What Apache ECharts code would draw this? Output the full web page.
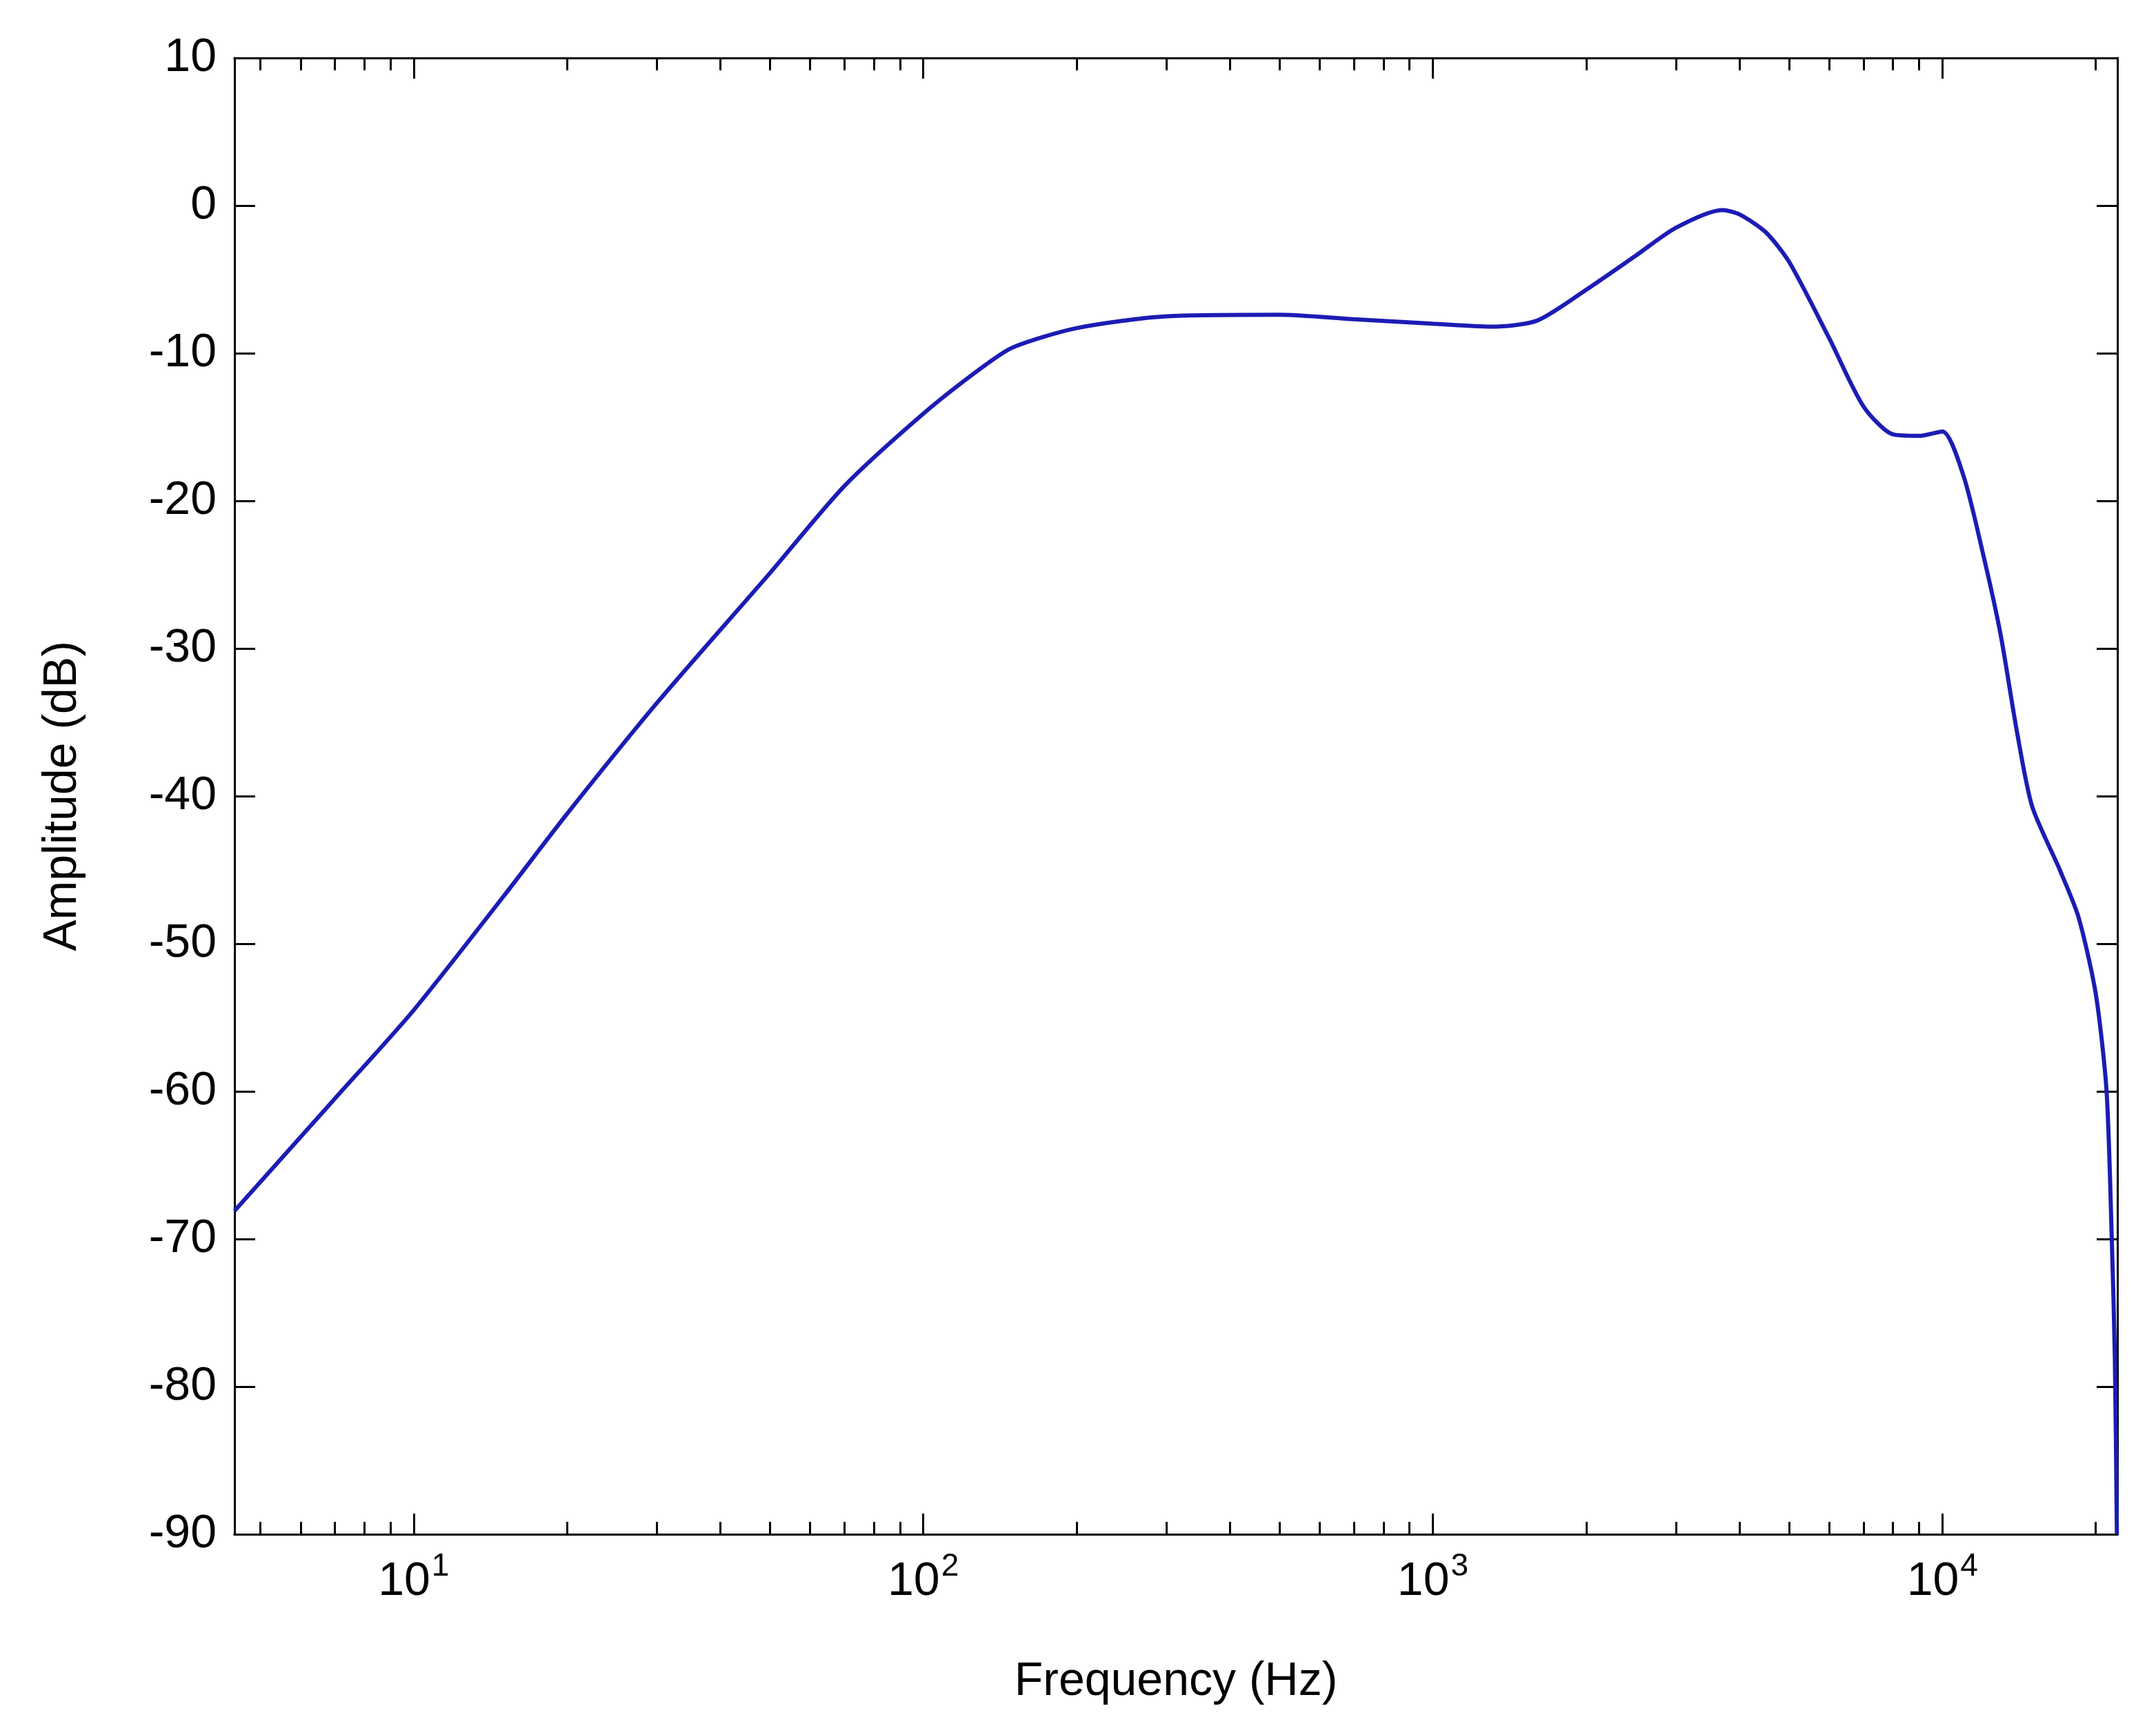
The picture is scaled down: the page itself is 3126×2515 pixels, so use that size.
<!DOCTYPE html>
<html><head><meta charset="utf-8">
<script src="https://cdn.jsdelivr.net/npm/echarts@6/dist/echarts.min.js"></script>
<style>html,body{margin:0;background:#fff}#c{width:3126px;height:2515px}</style></head>
<body><div id="c"></div>
<script>
const freqHz = [4.45,7,10,15,20,30,50,70,100,130,150,200,300,500,700,1000,1300,1600,2000,2500,3000,3700,4000,4500,5000,6000,7000,8000,9000,10000,11000,12000,13000,14000,15000,17000,18500,20000,21000,21500,21800,22000];
const ampDb  = [-68.1,-60.5,-54.5,-46.8,-41.2,-33.7,-24.9,-19,-14.1,-11,-9.6,-8.3,-7.5,-7.4,-7.7,-8.0,-8.2,-7.8,-5.7,-3.4,-1.5,-0.3,-0.6,-1.8,-3.8,-9,-13.6,-15.5,-15.6,-15.3,-18.3,-23.5,-29,-35.6,-40.7,-45,-48.2,-53.4,-60,-70,-78,-90];
const yTicks = [10,0,-10,-20,-30,-40,-50,-60,-70,-80,-90];
const majorExp = [1,2,3,4];
const xMin = Math.log10(4.45), xMax = Math.log10(22050);
const minor = [];
for (let d=0; d<=4; d++) for (let m=2; m<=9; m++){const v=Math.log10(m*Math.pow(10,d)); if(v>xMin&&v<xMax) minor.push(v);}
const font = 'Liberation Sans, Arial, sans-serif';
const line = {show:true,onZero:false,lineStyle:{color:'#000',width:3}};
function xa(pos, vals, len, labels){
  return {type:'value',min:xMin,max:xMax,position:pos,axisLine:line,splitLine:{show:false},
    axisTick:{show:true,inside:true,length:len,customValues:vals,lineStyle:{color:'#000',width:3}},
    axisLabel:labels?{show:true,customValues:vals,margin:24,fontFamily:font,fontSize:68,color:'#000',
      formatter:v=>'{b|10}{s|'+Math.round(v)+'}',
      rich:{b:{fontSize:68,fontFamily:font,color:'#000'},s:{fontSize:46,fontFamily:font,color:'#000',verticalAlign:'top',padding:[0,0,44,2]}}}:{show:false},
    name:labels?'Frequency (Hz)':'',nameLocation:'middle',nameGap:180,nameTextStyle:{fontFamily:font,fontSize:68,color:'#000'}};
}
function ya(pos, labels){
  return {type:'value',min:-90,max:10,interval:10,position:pos,axisLine:line,splitLine:{show:false},
    axisTick:{show:true,inside:true,length:30,lineStyle:{color:'#000',width:3}},
    axisLabel:{show:labels,margin:26,fontFamily:font,fontSize:68,color:'#000'},
    name:labels?'Amplitude (dB)':'',nameLocation:'middle',nameGap:215,nameTextStyle:{fontFamily:font,fontSize:68,color:'#000'}};
}
const chart = echarts.init(document.getElementById('c'));
chart.setOption({
  animation:false,
  grid:{left:340,right:56,top:84,bottom:291},
  xAxis:[xa('bottom',majorExp,30,true),xa('bottom',minor,18,false),xa('top',majorExp,30,false),xa('top',minor,18,false)],
  yAxis:[ya('left',true),ya('right',false)],
  series:[{type:'line',smooth:0.25,showSymbol:false,xAxisIndex:0,yAxisIndex:0,
    lineStyle:{color:'#1c1cb4',width:6},
    data:freqHz.map((f,i)=>[Math.log10(f),ampDb[i]])}]
});
</script></body></html>
